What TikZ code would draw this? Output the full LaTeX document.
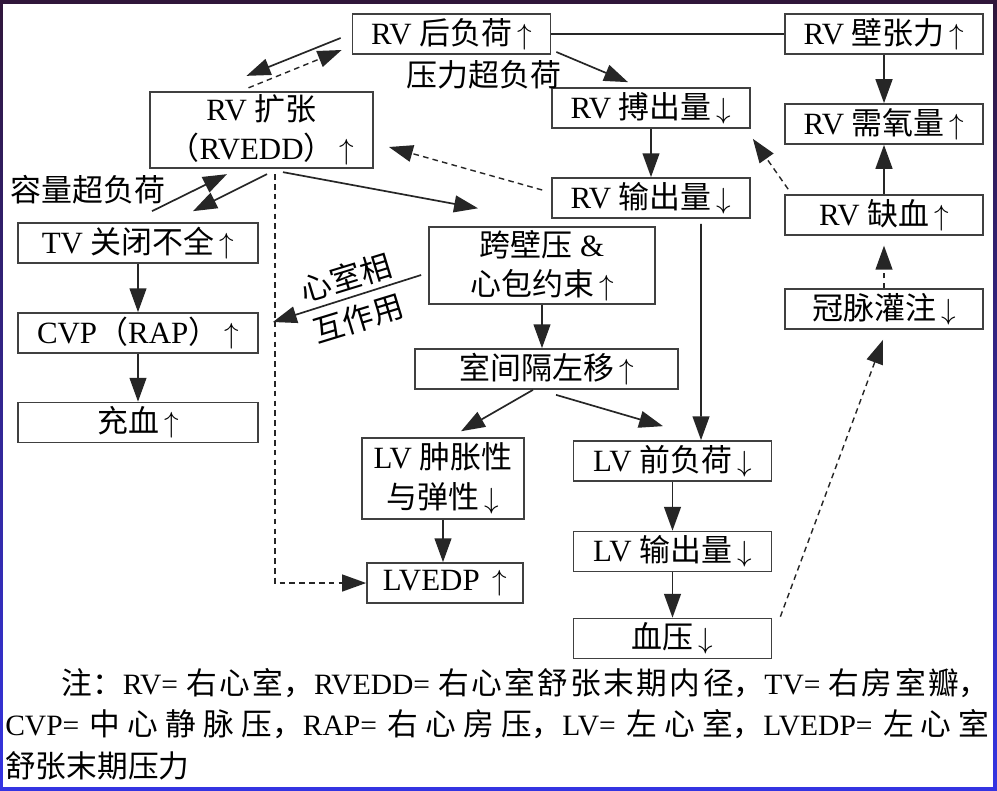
\documentclass[tikz,border=0pt]{standalone}
\usepackage{fontspec}
\setmainfont{Liberation Serif}
\newfontfamily\hei{Noto Sans CJK SC}
\newfontfamily\heibig[Scale=1.04]{Noto Sans CJK SC}
\usepackage{tikz}
\usetikzlibrary{arrows.meta,calc,positioning}
\XeTeXlinebreaklocale "zh"
\XeTeXlinebreakskip=0pt plus 6pt minus 0.3pt
\newcommand{\incr}{\,$\uparrow$}
\newcommand{\decr}{\,$\downarrow$}

\begin{document}
\begin{tikzpicture}[
      x=0.025cm, y=-0.025cm,
      box/.style={
          rectangle,
          draw=black!75,
          line width=1.2pt,
          minimum width=4.95cm,
          minimum height=1cm,
          inner sep=2pt,
          align=center,
          font=\fontsize{22}{28}\selectfont
        },
      flow/.style={-{Triangle[length=17pt,width=12pt]}, line width=1.2pt, black!85},
      hint/.style={flow, line width=1pt, dash pattern=on 4pt off 3pt},
      lbl/.style={font=\fontsize{22}{30}\selectfont\hei, align=center, inner sep=0pt},
      note/.style={font=\fontsize{21}{29.5}\selectfont, text width=24.6cm, align=justify, inner sep=0pt}
    ]
    \useasboundingbox (0,0) rectangle (997,790);
    \fill[top color={rgb,255:red,48;green,22;blue,58}, bottom color={rgb,255:red,52;green,52;blue,226}] (0,0) rectangle (997,790);
    \fill[white] (3,4) rectangle (993,787);

    % Explicit positions
    \node[box] at (451.5,34) (aft) {RV {\hei 后负荷}\incr};
    \node[box] at (884,34) (wall) {RV {\hei 壁张力}\incr};
    \node[box, minimum width=5.58cm, minimum height=1.85cm] at (261.5,130) (dil) {RV {\hei 扩张}\\{\hei （}RVEDD{\hei ）}\incr};
    \node[box] at (651,108) (sv) {RV {\hei 搏出量}\decr};
    \node[box] at (884,124) (o2) {RV {\hei 需氧量}\incr};
    \node[box] at (651,198) (co) {RV {\hei 输出量}\decr};
    \node[box] at (884,215) (isch) {RV {\hei 缺血}\incr};
    \node[box, minimum width=6cm] at (138,243) (tv) {TV {\hei 关闭不全}\incr};
    \node[box, minimum width=5.65cm, minimum height=1.875cm] at (542,265.5) (tm) {{\hei 跨壁压} \&\\{\hei 心包约束}\incr};
    \node[box] at (884,309) (cor) {{\hei 冠脉灌注}\decr};
    \node[box, minimum width=6cm] at (138,333) (cvp) {CVP{\hei （}RAP{\hei ）}\incr};
    \node[box, minimum width=6.58cm] at (546.5,369) (sep) {{\hei 室间隔左移}\incr};
    \node[box, minimum width=6cm] at (138,422.5) (cong) {{\hei 充血}\incr};
    \node[box, minimum width=4.05cm, minimum height=2.02cm] at (443,478.5) (lvc) {LV {\hei 肿胀性}\\{\hei 与弹性}\decr};
    \node[box] at (672.5,461) (pre) {LV {\hei 前负荷}\decr};
    \node[box, minimum width=3.9cm] at (445,583) (lvedp) {LVEDP \incr};
    \node[box] at (672.5,551.5) (lvo) {LV {\hei 输出量}\decr};
    \node[box] at (672.5,638.5) (bp) {{\hei 血压}\decr};

    \node[lbl] at (484,75) (press) {压力超负荷};
    \node[lbl] at (88,190) (vol) {容量超负荷};
    \node[lbl, rotate=17] at (352,298) (inter) {心室相\\互作用};

    % Arrows between boxes
    \draw[flow] ($(aft.west)+(-11,4)$) -- ($(dil.north)+(-15,-15)$);
    \draw[hint] ($(dil.north)+(-13,-3)$) -- ($(aft.west)+(-10,16)$);
    \draw[line width=1.2pt, black!85] (aft.east) -- (wall.west);
    \draw[flow] ($(aft.east)+(5,18)$) -- ($(sv.north)+(-23,-5)$);
    \draw[flow] (wall.south) -- (o2.north);
    \draw[flow] (isch.north) -- (o2.south);
    \draw[hint, shorten >=7pt] (cor.north) -- (isch.south);
    \draw[flow] (sv.south) -- (co.north);
    \draw[hint] ($(isch.north west)+(4,-5)$) -- ($(sv.south east)+(2,10)$);
    \draw[hint] ($(co.west)+(-9,-8)$) -- ($(dil.east)+(15,17)$);
    \draw[flow] ($(co.south)+(50,5)$) -- ($(pre.north)+(28.5,0)$);
    \draw[flow] ($(dil.south)+(21.5,3)$) -- ($(tm.north)+(-64,-18)$);
    \draw[flow] ($(tv.north)+(14,-11)$) -- ($(dil.south)+(-34.5,5)$);
    \draw[flow] ($(dil.south)+(5.5,5)$) -- ($(tv.north)+(55,-11)$);
    \draw[hint] ($(dil.south)+(13.5,5)$) |- (lvedp.west);
    \draw[flow] ($(tm.west)+(-7,9.5)$) -- ($(cvp.east)+(14,-11)$);
    \draw[flow] (tv.south) -- (cvp.north);
    \draw[flow] (cvp.south) -- (cong.north);
    \draw[flow] (tm.south) -- (tm.south |- sep.north);
    \draw[flow] ($(sep.south)+(-13.5,0)$) -- ($(lvc.north)+(18,-6)$);
    \draw[flow] ($(sep.south)+(9.5,5)$) -- ($(pre.north)+(-9.5,-14)$);
    \draw[flow] (lvc.south) -- (lvc.south |- lvedp.north);
    \draw[flow] (pre.south) -- (lvo.north);
    \draw[flow] (lvo.south) -- (bp.north);
    \draw[hint] ($(bp.north east)+(8,-1)$) -- ($(cor.south)+(-1,10)$);

    \node[note, anchor=north west] at (5,668) (legend) {\hspace*{1.9em}{\heibig 注：}RV= {\heibig 右心室，}RVEDD= {\heibig 右心室舒张末期内径，}TV= {\heibig 右房室瓣，}\linebreak CVP= {\heibig 中心静脉压，}RAP= {\heibig 右心房压，}LV= {\heibig 左心室，}LVEDP= {\heibig 左心室}\linebreak {\heibig 舒张末期压力}};
  \end{tikzpicture}
\end{document}
